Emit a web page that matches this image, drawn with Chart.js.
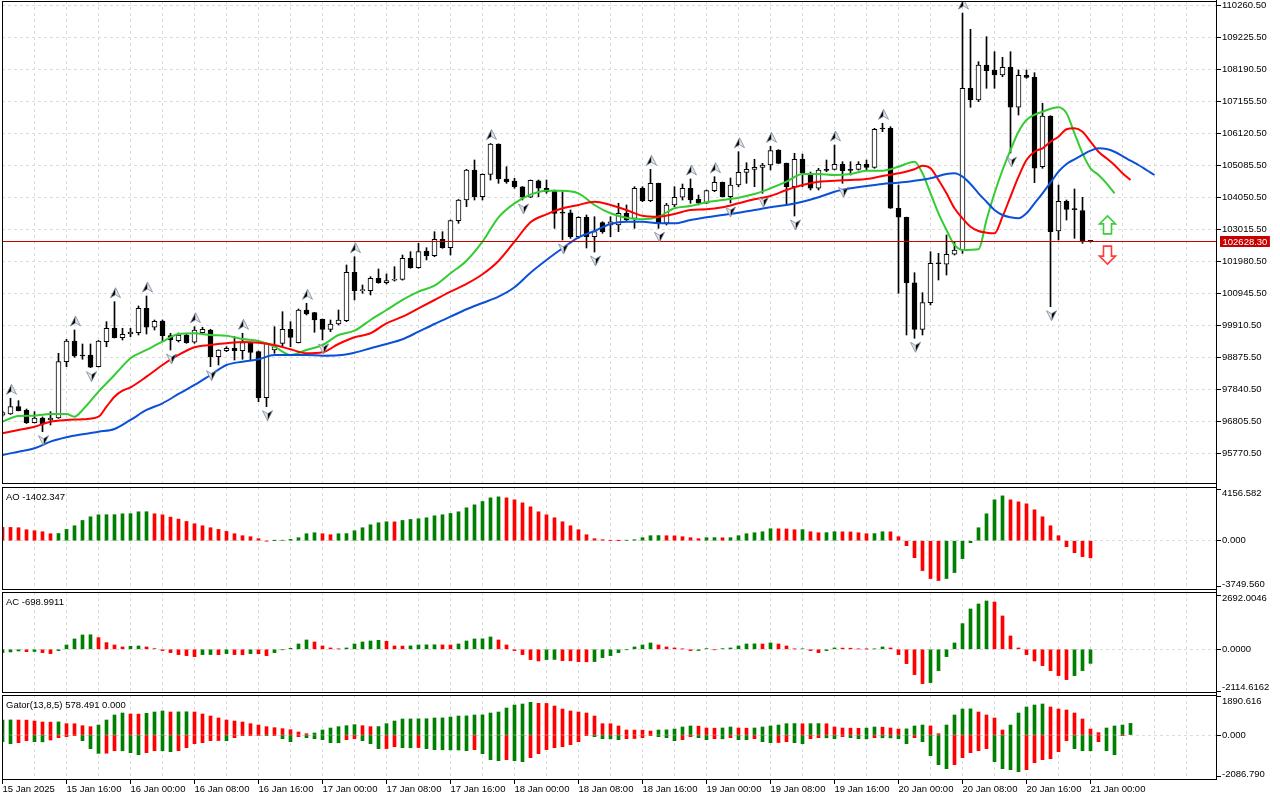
<!DOCTYPE html>
<html>
<head>
<meta charset="utf-8">
<title>BTCUSD H1 - Alligator, AO, AC, Gator</title>
<script src="https://cdn.jsdelivr.net/npm/chart.js@4.4.1/dist/chart.umd.min.js"></script>
<style>
    html, body { margin: 0; padding: 0; background: #fff; }
    #wrap { position: relative; width: 1280px; height: 800px; overflow: hidden; }
    #wrap canvas { position: absolute; left: 0; }
</style>
</head>
<body>
<div id="wrap">
    <canvas id="mainChart" width="1280" height="486" style="top:0px"></canvas>
    <canvas id="aoChart" width="1280" height="105" style="top:486px"></canvas>
    <canvas id="acChart" width="1280" height="103" style="top:591px"></canvas>
    <canvas id="gatorChart" width="1280" height="106" style="top:694px"></canvas>
</div>
<script>
// H1 candles, index 0 = 15 Jan 08:00
const opens = [
    97000, 97042, 97278, 97171, 96760, 96912, 96848, 96912, 98733, 99403,
    98934, 98950, 98572, 99380, 99814, 99509, 99629, 99671, 100460, 99846,
    100050, 99574, 99412, 99597, 99361, 99671, 99759, 98895, 99089, 99167,
    99089, 99348, 99057, 97569, 99112, 99328, 99781, 99348, 100405, 100318,
    100105, 99781, 99953, 100059, 101625, 101030, 101030, 101431, 101288, 101366,
    101398, 102078, 101774, 102314, 102162, 102692, 102420, 103294, 103963, 104934,
    104070, 104794, 105775, 104642, 104578, 104393, 104051, 104587, 104342, 104254,
    103552, 103552, 102776, 103404, 102776, 103229, 103155, 103155, 103533, 103371,
    104342, 103941, 104503, 103210, 103802, 104051, 104342, 103986, 103857, 104264,
    104536, 104070, 104448, 104859, 104956, 105021, 105095, 105580, 105150, 104393,
    105280, 104772, 104342, 104934, 104956, 105118, 104934, 104956, 105118, 105021,
    106270, 106282, 103695, 103404, 101288, 99781, 100642, 101916, 101884, 102207,
    102346, 107576, 107198, 108330, 108168, 108006, 108255, 106962, 107997, 107932,
    105040, 106680, 102961, 103921, 103662, 103617, 102640
];
const highs = [
    97139, 97549, 97472, 97203, 97116, 96945, 97116, 99005, 99458, 99759,
    99306, 99306, 99419, 100027, 100674, 99814, 99814, 100535, 100858, 100082,
    100082, 99652, 99661, 99652, 99865, 99846, 99781, 99120, 99218, 99542,
    99652, 99360, 99080, 99340, 99865, 100350, 100027, 100438, 100622, 100330,
    100115, 100082, 100405, 101861, 102129, 101214, 101482, 101732, 101570, 101806,
    102184, 102291, 102563, 102420, 102938, 102938, 103316, 103980, 104956, 105257,
    104810, 105790, 105780, 105040, 104665, 104400, 104610, 104610, 104610, 104287,
    104232, 103640, 103423, 103478, 103423, 103261, 103423, 103857, 103802, 104393,
    104393, 104956, 104510, 103857, 104393, 104480, 104642, 104125, 104287, 104717,
    104545, 104675, 105525, 105170, 105280, 105150, 105700, 105590, 105160, 105474,
    105450, 104869, 104989, 105257, 105742, 105202, 105202, 105202, 105257, 106282,
    106444, 106334, 104448, 103410, 101612, 100965, 102291, 102239, 102831, 102615,
    110010, 109484, 108436, 109245, 108760, 108579, 108760, 108168, 108168, 108081,
    107091, 106690, 104448, 103963, 104319, 104051, 102660
];
const lows = [
    96961, 97025, 97139, 96734, 96750, 96469, 96686, 96900, 98572, 98876,
    98811, 98539, 98562, 99218, 99500, 99435, 99542, 99597, 99629, 99759,
    99412, 99112, 99370, 99328, 99328, 99652, 98572, 98626, 99057, 98788,
    98811, 98788, 97439, 97278, 99005, 99218, 99218, 99338, 100244, 99684,
    99435, 99704, 99920, 100027, 100729, 100946, 100891, 101269, 101246, 101340,
    101370, 101754, 101754, 102023, 102129, 102400, 102184, 103210, 103747, 103963,
    103963, 104610, 104503, 104503, 104342, 103963, 104040, 104070, 104180, 103048,
    102669, 102724, 102724, 102411, 102281, 102886, 102776, 102938, 103300, 103048,
    103908, 103908, 103048, 103155, 103747, 103963, 103857, 103802, 103850, 104232,
    104060, 103866, 104393, 104503, 104393, 104180, 104934, 105140, 103802, 103446,
    104393, 104287, 104287, 104879, 104934, 104503, 104772, 104930, 104934, 104989,
    106172, 103690, 100946, 99597, 99490, 99597, 100567, 101376, 101537, 102184,
    102239, 106962, 107143, 107576, 107576, 107951, 105483, 106712, 107900, 104523,
    104989, 100512, 102669, 103316, 102724, 102563, 102600
];
const closes = [
    97084, 97278, 97148, 96760, 96912, 96718, 96912, 98733, 99403, 98918,
    98918, 98552, 99403, 99814, 99509, 99619, 99694, 100460, 99846, 100040,
    99574, 99435, 99597, 99348, 99759, 99781, 98895, 99112, 99167, 99089,
    99348, 99037, 97569, 99328, 99218, 99781, 99522, 100405, 100276, 100082,
    99781, 99953, 100082, 101625, 101030, 101043, 101431, 101288, 101353, 101376,
    102078, 101774, 102291, 102162, 102692, 102420, 103294, 103963, 104934, 104070,
    104794, 105775, 104642, 104555, 104393, 104051, 104600, 104342, 104232, 103533,
    103540, 102776, 103404, 102776, 102938, 102938, 103261, 103533, 103316, 104342,
    103941, 104503, 103210, 103802, 104051, 104342, 103963, 103857, 104264, 104536,
    104070, 104448, 104859, 104956, 105021, 105095, 105558, 105150, 104393, 105280,
    104827, 104342, 104934, 104924, 105118, 104911, 104920, 105118, 105021, 106250,
    106260, 103695, 103404, 101288, 99781, 100642, 101916, 101900, 102207, 102346,
    107576, 107198, 108330, 108145, 108006, 108255, 106962, 107997, 107932, 104989,
    106680, 102938, 103921, 103662, 103650, 102640, 102628.3
];

// Bill Williams fractals (candle indexes)
const fractalUp = [1, 9, 14, 18, 24, 30, 38, 44, 61, 81, 86, 89, 92, 96, 104, 110, 120];
const fractalDown = [5, 11, 21, 26, 33, 40, 65, 70, 74, 82, 91, 95, 99, 105, 114, 126, 131];

// Alligator lines (read every couple of bars, shifted lines run past the last candle)
const jawIdx = [0, 2, 4, 6, 8, 10, 12, 14, 16, 18, 20, 22, 24, 26, 28, 30, 32, 34, 36, 38,
    40, 42, 44, 46, 48, 50, 52, 54, 56, 58, 60, 62, 64, 66, 68, 70, 72, 74, 76, 78,
    80, 82, 84, 86, 88, 90, 92, 94, 96, 98, 100, 102, 104, 106, 108, 110, 112, 114, 116, 118,
    119, 120, 121, 122, 123, 124, 125, 126, 127, 128, 129, 130, 131, 132, 133, 134, 135, 136, 137, 138,
    139, 140, 141, 142, 143, 144];
const jawVals = [95716, 95822, 95932, 96146, 96288, 96385, 96469, 96556, 96848, 97171,
    97388, 97689, 97980, 98303, 98626, 98733, 98811, 98950, 98950, 98950,
    98927, 98940, 99024, 99167, 99306, 99458, 99704, 99953, 100189, 100428,
    100632, 100836, 101140, 101612, 102023, 102401, 102757, 102961, 103187, 103261,
    103261, 103210, 103210, 103316, 103404, 103478, 103552, 103640, 103727, 103802,
    103908, 104051, 104232, 104342, 104416, 104481, 104523, 104587, 104665, 104804,
    104827, 104717, 104481, 104180, 103908, 103640, 103478, 103404, 103371, 103533,
    103857, 104180, 104523, 104879, 105128, 105280, 105419, 105558, 105635, 105613,
    105525, 105386, 105234, 105095, 104934, 104772];

const teethIdx = [0, 2, 4, 6, 8, 10, 12, 13, 14, 15, 16, 18, 20, 22, 24, 26, 28, 30, 32, 34,
    36, 38, 40, 42, 44, 46, 48, 50, 52, 54, 56, 58, 60, 62, 64, 66, 68, 70, 72, 74,
    76, 78, 80, 82, 84, 86, 88, 90, 92, 94, 96, 98, 100, 102, 104, 106, 108, 110, 112, 114,
    115, 116, 117, 118, 119, 120, 121, 122, 123, 124, 125, 126, 127, 128, 129, 130, 131, 132, 133, 134,
    135, 136, 137, 138, 139, 140, 141];
const teethVals = [96417, 96524, 96631, 96793, 96848, 96870, 96954, 97278, 97601, 97795,
    97905, 98248, 98626, 98950, 99199, 99273, 99328, 99370, 99348, 99273,
    99134, 99005, 99037, 99306, 99522, 99652, 99975, 100189, 100460, 100729,
    100997, 101247, 101560, 101990, 102614, 103242, 103500, 103695, 103802, 103908,
    103802, 103640, 103455, 103423, 103510, 103640, 103662, 103727, 103857, 103986,
    104093, 104287, 104448, 104555, 104587, 104610, 104642, 104740, 104827, 104956,
    105073, 104989, 104610, 104180, 103695, 103371, 103100, 102961, 102906, 102886,
    103423, 104070, 104717, 105257, 105525, 105635, 105849, 106011, 106250, 106282,
    106172, 105849, 105525, 105312, 105095, 104827, 104610];

const lipsIdx = [0, 2, 4, 6, 8, 9, 10, 12, 14, 16, 18, 20, 22, 24, 26, 28, 30, 32, 34, 36,
    38, 40, 42, 44, 46, 48, 50, 52, 54, 56, 58, 60, 62, 64, 66, 68, 70, 72, 74, 76,
    78, 80, 82, 84, 86, 88, 90, 92, 94, 96, 98, 100, 102, 104, 106, 108, 110, 112, 114, 115,
    116, 117, 118, 119, 120, 122, 123, 124, 125, 126, 127, 128, 130, 132, 133, 134, 135, 136, 137, 138,
    139];
const lipsVals = [96793, 96977, 96987, 97042, 97042, 96954, 97171, 97763, 98303, 98843,
    99112, 99380, 99629, 99652, 99597, 99574, 99467, 99403, 99218, 98950,
    99112, 99273, 99597, 99736, 100082, 100405, 100729, 100997, 101192, 101592,
    102000, 102614, 103404, 103856, 104135, 104264, 104264, 104180, 103802, 103533,
    103391, 103339, 103423, 103695, 103769, 103889, 103963, 104038, 104157, 104342,
    104555, 104804, 104804, 104772, 104804, 104911, 104911, 105040, 105202, 104827,
    104180, 103533, 102993, 102508, 102346, 102369, 103316, 104180, 104934, 105580,
    106172, 106551, 106819, 106962, 106767, 106121, 105474, 104989, 104772, 104503,
    104180];

// Awesome Oscillator
const aoValues = [
    1087, 1087, 1060, 897, 815, 734, 571, 590, 924, 1223,
    1657, 1956, 2119, 2125, 2130, 2201, 2210, 2364, 2370, 2201,
    2119, 1929, 1766, 1576, 1386, 1223, 1060, 924, 761, 571,
    408, 326, 163, -20, 10, 30, 108, 245, 571, 652,
    571, 489, 571, 580, 815, 1060, 1304, 1467, 1549, 1540,
    1657, 1739, 1793, 1875, 2038, 2119, 2228, 2364, 2690, 2934,
    3206, 3505, 3586, 3505, 3342, 3097, 2771, 2364, 2119, 1875,
    1549, 1223, 897, 489, 163, 82, 20, 10, 25, 82,
    245, 408, 420, 405, 395, 326, 245, 163, 245, 250,
    240, 248, 408, 571, 652, 734, 978, 970, 960, 897,
    905, 734, 652, 660, 734, 725, 715, 652, 571, 580,
    734, 725, 326, -408, -1386, -2445, -3097, -3260, -3097, -2608,
    -1467, -163, 1060, 2201, 3342, 3668, 3342, 3179, 3016, 2527,
    1956, 1223, 408, -489, -978, -1304, -1402.347
];

// Accelerator Oscillator
const acValues = [
    -165, -132, -83, -116, -110, -165, -215, -66, 215, 512,
    711, 720, 579, 331, 215, 116, 149, 165, 116, 33,
    -66, -165, -264, -314, -364, -264, -260, -268, -215, -264,
    -270, -215, -220, -314, -165, -17, 50, 264, 463, 364,
    165, 66, 17, 66, 264, 364, 413, 446, 397, 165,
    160, 168, 215, 220, 225, 218, 212, 264, 413, 512,
    520, 612, 463, 215, -66, -264, -512, -579, -512, -505,
    -562, -570, -612, -620, -610, -413, -314, -165, -17, 116,
    215, 314, 215, 116, 66, 17, -66, -60, 33, -17,
    33, 66, 165, 264, 270, 262, 314, 264, 165, 17,
    25, -66, -165, -66, 66, 60, 55, 17, 10, 20,
    116, 66, -264, -711, -1256, -1703, -1653, -1058, -364, 314,
    1273, 2000, 2248, 2397, 2347, 1653, 661, 66, -264, -579,
    -810, -1058, -1306, -1504, -1306, -1058, -698.9911
];

// Gator oscillator, upper |jaw-teeth| and lower -|teeth-lips|
const gatorUp = [
    746, 750, 745, 740, 696, 647, 640, 650, 564, 560,
    464, 415, 497, 746, 995, 1094, 1045, 1040, 1078, 1144,
    1194, 1144, 1150, 1155, 1144, 1045, 945, 846, 746, 696,
    647, 564, 497, 415, 365, 315, 265, 149, 66, 100,
    249, 348, 415, 464, 514, 464, 415, 420, 564, 696,
    796, 800, 805, 810, 846, 850, 895, 945, 950, 995,
    1000, 1094, 1144, 1343, 1492, 1542, 1625, 1575, 1570, 1442,
    1293, 1194, 1144, 1094, 945, 564, 560, 448, 249, 245,
    240, 199, 249, 255, 298, 398, 448, 440, 348, 340,
    350, 398, 348, 340, 350, 398, 448, 497, 564, 570,
    560, 565, 570, 560, 398, 348, 340, 335, 345, 398,
    390, 348, 298, 305, 448, 497, 448, 66, 497, 995,
    1293, 1300, 1144, 995, 846, 249, 497, 1094, 1393, 1492,
    1542, 1393, 1293, 1244, 1094, 796, 298, 116, 348, 448,
    497, 578.491
];
const gatorDown = [
    -332, -431, -381, -282, -332, -340, -249, -133, -83, -17,
    -282, -680, -912, -905, -779, -785, -879, -978, -879, -779,
    -785, -829, -779, -630, -431, -381, -282, -275, -285, -133,
    -33, -30, -28, -35, -30, -182, -332, -83, -133, -182,
    -232, -381, -385, -232, -182, -282, -431, -680, -675, -580,
    -630, -635, -625, -680, -730, -735, -740, -745, -779, -730,
    -928, -1227, -1277, -1227, -1277, -1326, -1127, -928, -730, -630,
    -580, -481, -332, -33, -83, -182, -190, -232, -182, -175,
    -133, -33, -83, -133, -282, -232, -83, -133, -232, -182,
    -190, -133, -232, -235, -182, -332, -381, -375, -332, -381,
    -431, -182, -133, -140, -182, -83, -133, -182, -190, -133,
    -140, -145, -182, -431, -133, -332, -1028, -1476, -1675, -1476,
    -1127, -879, -779, -680, -1326, -1675, -1724, -1824, -1724, -1376,
    -1227, -1177, -829, -282, -680, -779, -785, -332, -779, -978,
    -15
];

// axis ticks
const priceTicks = [95770.5, 96805.5, 97840.5, 98875.5, 99910.5, 100945.5, 101980.5, 103015.5,
    104050.5, 105085.5, 106120.5, 107155.5, 108190.5, 109225.5, 110260.5];
const aoTicks = [-3749.560, 0, 4156.582];
const acTicks = [-2114.6162, 0, 2692.0046];
const gatorTicks = [-2086.790, 0, 1890.616];

const xLabelIdx = [0, 8, 16, 24, 32, 40, 48, 56, 64, 72, 80, 88, 96, 104, 112, 120, 128, 136];
const xLabels = ['15 Jan 2025', '15 Jan 16:00', '16 Jan 00:00', '16 Jan 08:00', '16 Jan 16:00',
    '17 Jan 00:00', '17 Jan 08:00', '17 Jan 16:00', '18 Jan 00:00', '18 Jan 08:00',
    '18 Jan 16:00', '19 Jan 00:00', '19 Jan 08:00', '19 Jan 16:00', '20 Jan 00:00',
    '20 Jan 08:00', '20 Jan 16:00', '21 Jan 00:00'];

const bidPrice = 102628.30;
// signal arrows to the right of the last bar
const signalIdx = 138;
const signalUpTip = 103450;
const signalDownTip = 101890;

// ---------------------------------------------------------------
const UP = '#008000';
const DOWN = '#ff0000';
const fontFamily = '"Liberation Sans", Arial, sans-serif';
const axisFont = { family: fontFamily, size: 9.5 };
const canvasFont = '9.5px ' + fontFamily;
const AXIS_WIDTH = 63;
const X_MIN = -0.0625;
const X_MAX = 151.8125;

const gridIdx = [];
for (let v = 0; v <= 148; v += 4) gridIdx.push(v);

// colour each bar against the previous one
function barColors(vals, firstUp, useAbs) {
    return vals.map((v, i) => {
        if (i === 0) return firstUp ? UP : DOWN;
        const cur = useAbs ? Math.abs(v) : v;
        const prev = useAbs ? Math.abs(vals[i - 1]) : vals[i - 1];
        return cur > prev ? UP : DOWN;
    });
}

function toPoints(vals) {
    return vals.map((v, i) => ({ x: i, y: v }));
}

function xScale(showLabels) {
    return {
        type: 'linear',
        min: X_MIN,
        max: X_MAX,
        offset: false,
        afterBuildTicks: axis => { axis.ticks = gridIdx.map(v => ({ value: v })); },
        afterFit: axis => {
            axis.height = showLabels ? 20 : 0;
            axis.paddingLeft = 0;
            axis.paddingRight = 0;
        },
        grid: {
            offset: false,
            color: '#dcdcdc',
            lineWidth: 1,
            drawTicks: showLabels,
            tickLength: 4,
            tickWidth: 1,
            tickBorderDash: [],
            tickColor: ctx => (ctx.tick && xLabelIdx.includes(ctx.tick.value)) ? '#000' : 'rgba(0,0,0,0)'
        },
        border: { display: false, dash: [3, 3] },
        ticks: {
            display: showLabels,
            autoSkip: false,
            maxRotation: 0,
            minRotation: 0,
            align: 'start',
            padding: 0,
            color: '#000',
            font: axisFont,
            callback: value => {
                const k = xLabelIdx.indexOf(value);
                return k >= 0 ? xLabels[k] : '';
            }
        }
    };
}

// indicator panes draw their own labels (kept inside the pane like the terminal does)
function yScale(min, max, tickVals, decimals, isIndicator) {
    return {
        type: 'linear',
        position: 'right',
        min: min,
        max: max,
        afterBuildTicks: axis => { axis.ticks = tickVals.map(v => ({ value: v })); },
        afterFit: axis => {
            axis.width = AXIS_WIDTH;
            axis.paddingTop = 0;
            axis.paddingBottom = 0;
        },
        grid: {
            color: isIndicator ? (ctx => (ctx.tick && ctx.tick.value === 0) ? '#dcdcdc' : 'rgba(0,0,0,0)') : '#dcdcdc',
            lineWidth: 1,
            drawTicks: true,
            tickLength: 4,
            tickWidth: 1,
            tickColor: '#000',
            tickBorderDash: []
        },
        border: { display: false, dash: [3, 3] },
        ticks: {
            display: !isIndicator,
            autoSkip: false,
            padding: 1,
            color: '#000',
            font: axisFont,
            callback: value => Number(value).toFixed(decimals)
        }
    };
}

function edgeLabels(tickVals, decimals) {
    return {
        id: 'edgeLabels',
        afterDraw(chart) {
            const { ctx, chartArea: a } = chart;
            const ys = chart.scales.y;
            ctx.save();
            ctx.font = canvasFont;
            ctx.fillStyle = '#000';
            ctx.textBaseline = 'middle';
            tickVals.forEach(v => {
                const py = Math.min(Math.max(ys.getPixelForValue(v), a.top + 6), a.bottom - 6);
                ctx.fillText(v.toFixed(decimals), a.right + 5, py);
            });
            ctx.restore();
        }
    };
}

// frame around each pane, price axis line and the pane caption
function paneDecor(title, stopAtBottom) {
    return {
        id: 'paneDecor',
        afterDraw(chart) {
            const { ctx, chartArea: a } = chart;
            ctx.save();
            ctx.strokeStyle = '#000';
            ctx.lineWidth = 1;
            ctx.strokeRect(a.left + 0.5, a.top + 0.5, a.right - a.left - 1, a.bottom - a.top - 1);
            ctx.beginPath();
            ctx.moveTo(a.right - 0.5, 0);
            ctx.lineTo(a.right - 0.5, stopAtBottom ? a.bottom : chart.height);
            ctx.stroke();
            if (title) {
                ctx.fillStyle = '#000';
                ctx.font = canvasFont;
                ctx.textBaseline = 'middle';
                ctx.fillText(title, a.left + 4, a.top + 10);
            }
            ctx.restore();
        }
    };
}

function drawFractal(ctx, cx, cy, up) {
    const s = up ? 1 : -1;
    cx = Math.round(cx) + 0.5;
    const tip = [cx, cy - 5 * s];
    const right = [cx + 5, cy + 5 * s];
    const notch = [cx, cy + 2 * s];
    const left = [cx - 5, cy + 5 * s];
    const dark = up ? left : right;
    const light = up ? right : left;
    ctx.fillStyle = '#000';
    ctx.beginPath();
    ctx.moveTo(tip[0], tip[1]); ctx.lineTo(notch[0], notch[1]); ctx.lineTo(dark[0], dark[1]);
    ctx.closePath();
    ctx.fill();
    ctx.fillStyle = '#e4e4e4';
    ctx.beginPath();
    ctx.moveTo(tip[0], tip[1]); ctx.lineTo(light[0], light[1]); ctx.lineTo(notch[0], notch[1]);
    ctx.closePath();
    ctx.fill();
    ctx.strokeStyle = '#7a8aa0';
    ctx.lineWidth = 0.8;
    ctx.beginPath();
    ctx.moveTo(tip[0], tip[1]); ctx.lineTo(right[0], right[1]); ctx.lineTo(notch[0], notch[1]);
    ctx.lineTo(left[0], left[1]);
    ctx.closePath();
    ctx.stroke();
}

function drawBlockArrow(ctx, cx, tipY, up, color) {
    const s = up ? 1 : -1;
    const shape = [[0, 0], [8, 8], [4, 8], [4, 18], [-4, 18], [-4, 8], [-8, 8]];
    cx = Math.round(cx) + 0.5;
    ctx.beginPath();
    shape.forEach(([dx, dy], k) => {
        const px = cx + dx, py = tipY + dy * s;
        if (k === 0) ctx.moveTo(px, py); else ctx.lineTo(px, py);
    });
    ctx.closePath();
    ctx.fillStyle = '#ffffff';
    ctx.fill();
    ctx.lineWidth = 1.6;
    ctx.strokeStyle = color;
    ctx.stroke();
}

const mainOverlay = {
    id: 'mainOverlay',
    afterDatasetsDraw(chart) {
        const { ctx, chartArea: a } = chart;
        const xs = chart.scales.x, ys = chart.scales.y;
        ctx.save();
        ctx.beginPath();
        ctx.rect(a.left, a.top, a.right - a.left, a.bottom - a.top);
        ctx.clip();

        // bid line
        const by = Math.round(ys.getPixelForValue(bidPrice)) + 0.5;
        ctx.strokeStyle = '#c80000';
        ctx.lineWidth = 1;
        ctx.beginPath();
        ctx.moveTo(a.left, by);
        ctx.lineTo(a.right, by);
        ctx.stroke();

        fractalUp.forEach(i => drawFractal(ctx, xs.getPixelForValue(i), ys.getPixelForValue(highs[i]) - 9, true));
        fractalDown.forEach(i => drawFractal(ctx, xs.getPixelForValue(i), ys.getPixelForValue(lows[i]) + 9, false));

        drawBlockArrow(ctx, xs.getPixelForValue(signalIdx), ys.getPixelForValue(signalUpTip), true, '#3ccc3c');
        drawBlockArrow(ctx, xs.getPixelForValue(signalIdx), ys.getPixelForValue(signalDownTip), false, '#ff3a3a');
        ctx.restore();
    },
    afterDraw(chart) {
        const { ctx, chartArea: a } = chart;
        const by = Math.round(chart.scales.y.getPixelForValue(bidPrice)) + 0.5;
        const txt = bidPrice.toFixed(2);
        ctx.save();
        ctx.font = canvasFont;
        const w = ctx.measureText(txt).width + 5;
        ctx.fillStyle = '#c80000';
        ctx.fillRect(a.right + 3, by - 5.5, w, 11);
        ctx.fillStyle = '#ffffff';
        ctx.textBaseline = 'middle';
        ctx.fillText(txt, a.right + 5.5, by + 0.5);
        ctx.restore();
    }
};

function baseOptions(padding, scales) {
    return {
        responsive: false,
        animation: false,
        devicePixelRatio: 1,
        events: [],
        layout: { padding: padding },
        plugins: { legend: { display: false }, tooltip: { enabled: false } },
        scales: scales
    };
}

// ---- main pane: candles + alligator ----
const candleIdx = opens.map((_, i) => i);

new Chart(document.getElementById('mainChart'), {
    type: 'bar',
    data: {
        datasets: [
            {
                type: 'line', label: 'Jaw',
                data: jawIdx.map((x, k) => ({ x: x, y: jawVals[k] })),
                borderColor: '#0b50d8', borderWidth: 2, pointRadius: 0,
                cubicInterpolationMode: 'monotone', order: 0
            },
            {
                type: 'line', label: 'Teeth',
                data: teethIdx.map((x, k) => ({ x: x, y: teethVals[k] })),
                borderColor: '#ff0000', borderWidth: 2, pointRadius: 0,
                cubicInterpolationMode: 'monotone', order: 0
            },
            {
                type: 'line', label: 'Lips',
                data: lipsIdx.map((x, k) => ({ x: x, y: lipsVals[k] })),
                borderColor: '#33cc33', borderWidth: 2, pointRadius: 0,
                cubicInterpolationMode: 'monotone', order: 0
            },
            {
                label: 'Body',
                data: candleIdx.map(i => ({ x: i, y: [opens[i], closes[i]] })),
                backgroundColor: candleIdx.map(i => closes[i] >= opens[i] ? '#ffffff' : '#000000'),
                borderColor: '#000000',
                borderWidth: 1,
                borderSkipped: false,
                barThickness: 5,
                minBarLength: 1,
                grouped: false,
                order: 1
            },
            {
                label: 'Wick',
                data: candleIdx.map(i => ({ x: i, y: [lows[i], highs[i]] })),
                backgroundColor: '#000000',
                borderWidth: 0,
                barThickness: 1,
                grouped: false,
                order: 2
            }
        ]
    },
    options: baseOptions({ left: 2, right: 0, top: 1, bottom: 2 }, {
        x: xScale(false),
        y: yScale(94777, 110400, priceTicks, 2, false)
    }),
    plugins: [mainOverlay, paneDecor('', false)]
});

// ---- AO ----
new Chart(document.getElementById('aoChart'), {
    type: 'bar',
    data: {
        datasets: [{
            label: 'AO',
            data: toPoints(aoValues),
            backgroundColor: barColors(aoValues, false, false),
            barThickness: 3,
            grouped: false
        }]
    },
    options: baseOptions({ left: 2, right: 0, top: 1, bottom: 1 }, {
        x: xScale(false),
        y: yScale(-4033, 4393, aoTicks, 3, true)
    }),
    plugins: [paneDecor('AO -1402.347', false), edgeLabels(aoTicks, 3)]
});

// ---- AC ----
new Chart(document.getElementById('acChart'), {
    type: 'bar',
    data: {
        datasets: [{
            label: 'AC',
            data: toPoints(acValues),
            backgroundColor: barColors(acValues, true, false),
            barThickness: 3,
            grouped: false
        }]
    },
    options: baseOptions({ left: 2, right: 0, top: 1, bottom: 1 }, {
        x: xScale(false),
        y: yScale(-2168, 2842, acTicks, 4, true)
    }),
    plugins: [paneDecor('AC -698.9911', false), edgeLabels(acTicks, 4)]
});

// ---- Gator ----
new Chart(document.getElementById('gatorChart'), {
    type: 'bar',
    data: {
        datasets: [
            {
                label: 'Gator up',
                data: toPoints(gatorUp),
                backgroundColor: barColors(gatorUp, true, true),
                barThickness: 3,
                grouped: false
            },
            {
                label: 'Gator down',
                data: toPoints(gatorDown),
                backgroundColor: barColors(gatorDown, true, true),
                barThickness: 3,
                grouped: false
            }
        ]
    },
    options: baseOptions({ left: 2, right: 0, top: 1, bottom: 0 }, {
        x: xScale(true),
        y: yScale(-2238, 1990, gatorTicks, 3, true)
    }),
    plugins: [paneDecor('Gator(13,8,5) 578.491 0.000', true), edgeLabels(gatorTicks, 3)]
});
</script>
</body>
</html>
